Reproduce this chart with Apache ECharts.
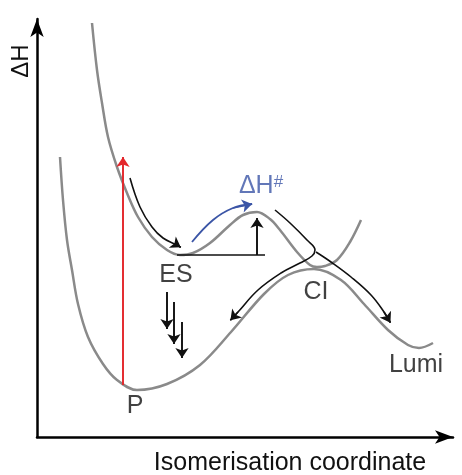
<!DOCTYPE html>
<html>
<head>
<meta charset="utf-8">
<script src="https://cdn.jsdelivr.net/npm/echarts@6/dist/echarts.min.js"></script>
<style>
  html, body { margin: 0; padding: 0; background: #fff; }
  #chart { width: 462px; height: 475px; }
</style>
</head>
<body>
<div id="chart"></div>
<script>
// values (x: isomerisation coordinate, y: ΔH, arbitrary units)
var excitedSurface = [[55,414],[60,367],[65,334],[71,300],[80,270],[90,244],[101,220],[115,200],[130,187],
  [143,182],[156,184],[173,194],[193,212],[206,222],[220,225],[233,218],[243,207],[260,185],[273,172],
  [280,170],[288,171],[300,177],[313,195],[324,217]];
var groundSurface = [[23,280],[26,237],[30,197],[35,167],[41,133],[51,100],[66,73],[80,57],[100,47],
  [130,53],[163,72],[194,105],[227,143],[251,162],[277,168],[304,157],[327,133],[351,107],[371,92],
  [382,89],[396,94]];

// arrows: last point is the tip
var esArrow = [[93,259],[103,230],[115,210],[126,199],[140,192],[148,187]];
var barrierArrow = [[155,195],[176,217],[196,229],[220,234]];
var backArrow = [[238,227],[253,214],[270,197],[278,187],[275,181],[263,174],[244,164],[221,147],[201,125],[190,113]];
var lumiArrow = [[279,185],[294,175],[314,160],[334,142],[347,125],[356,110]];
var excitation = [[86,52],[86,285]];
var heightArrow = [[220,182],[220,224]];
var decayArrows = [[[130,145],[130,103]], [[137,135],[137,88]], [[145,115],[145,74]]];
var baseLine = [[140,182],[228,182]];

var stateLabels = [[139,162,'ES'],[98,31,'P'],[279,145,'CI'],[379,72,'Lumi']];
var barrierLabel = [224,251];

var GREY = '#8a8a8a', INK = '#111', RED = '#e4262b', BLUE = '#3b55a6';
var FONT = 'Liberation Sans, Arial, sans-serif';
var HEAD = 10;

function trimTip(path) {
  var a = path[path.length - 2], b = path[path.length - 1];
  var dx = b[0] - a[0], dy = b[1] - a[1], L = Math.sqrt(dx * dx + dy * dy);
  var end = [b[0] - dx / L * HEAD / 2, b[1] - dy / L * HEAD / 2];
  return path.slice(0, -1).concat([end]);
}

var series = [];
function surface(data) {
  series.push({ type: 'line', data: data, smooth: 0.35, showSymbol: false, silent: true,
    lineStyle: { color: GREY, width: 2.5 }, z: 2 });
}
surface(excitedSurface);
surface(groundSurface);

var heads = {};
function arrow(path, color, width, smooth) {
  var p = trimTip(path);
  series.push({ type: 'line', data: p, smooth: smooth ? 0.4 : false, showSymbol: false, silent: true,
    lineStyle: { color: color, width: width }, z: 4 });
  (heads[color] = heads[color] || []).push({ coords: [p[p.length - 2], p[p.length - 1]] });
}
arrow(esArrow, INK, 1.6, true);
arrow(barrierArrow, BLUE, 1.8, true);
arrow(backArrow, INK, 1.6, true);
arrow(lumiArrow, INK, 1.6, true);
arrow(excitation, RED, 1.6, false);
arrow(heightArrow, INK, 1.6, false);
decayArrows.forEach(function (a) { arrow(a, INK, 1.6, false); });

Object.keys(heads).forEach(function (c) {
  series.push({ type: 'lines', coordinateSystem: 'cartesian2d', data: heads[c], silent: true,
    symbol: ['none', 'arrow'], symbolSize: HEAD, lineStyle: { color: c, width: 1.6, opacity: 1 }, z: 5 });
});

series.push({ type: 'line', data: baseLine, showSymbol: false, silent: true,
  lineStyle: { color: INK, width: 1.6 }, z: 4 });

series.push({
  type: 'scatter', symbolSize: 0, silent: true, z: 6,
  data: stateLabels,
  label: { show: true, position: 'inside', formatter: function (p) { return p.data[2]; },
    color: INK, fontSize: 25, fontFamily: FONT }
});
series.push({
  type: 'scatter', symbolSize: 0, silent: true, z: 6,
  data: [barrierLabel],
  label: { show: true, position: 'inside', formatter: '{a|ΔH}{b|#}',
    rich: {
      a: { color: BLUE, fontSize: 25, fontFamily: FONT },
      b: { color: BLUE, fontSize: 17, verticalAlign: 'top', fontFamily: FONT }
    } }
});

var axisLine = { show: true, onZero: false, symbol: ['none', 'arrow'], symbolSize: [10, 18],
  lineStyle: { color: '#000', width: 2.5 } };

var chart = echarts.init(document.getElementById('chart'));
chart.setOption({
  animation: false,
  grid: { left: 37, right: 9, top: 19, bottom: 38 },
  xAxis: { type: 'value', min: 0, max: 416, axisLine: axisLine, axisTick: { show: false },
    axisLabel: { show: false }, splitLine: { show: false } },
  yAxis: { type: 'value', min: 0, max: 418, axisLine: axisLine, axisTick: { show: false },
    axisLabel: { show: false }, splitLine: { show: false } },
  graphic: [
    { type: 'text', x: 21, y: 61, rotation: Math.PI / 2,
      style: { text: 'ΔH', fill: INK, fontSize: 24, fontFamily: FONT,
        align: 'center', verticalAlign: 'middle' } },
    { type: 'text', x: 290, y: 463,
      style: { text: 'Isomerisation coordinate', fill: INK, fontSize: 25,
        fontFamily: FONT, align: 'center', verticalAlign: 'middle' } }
  ],
  series: series
});
</script>
</body>
</html>
